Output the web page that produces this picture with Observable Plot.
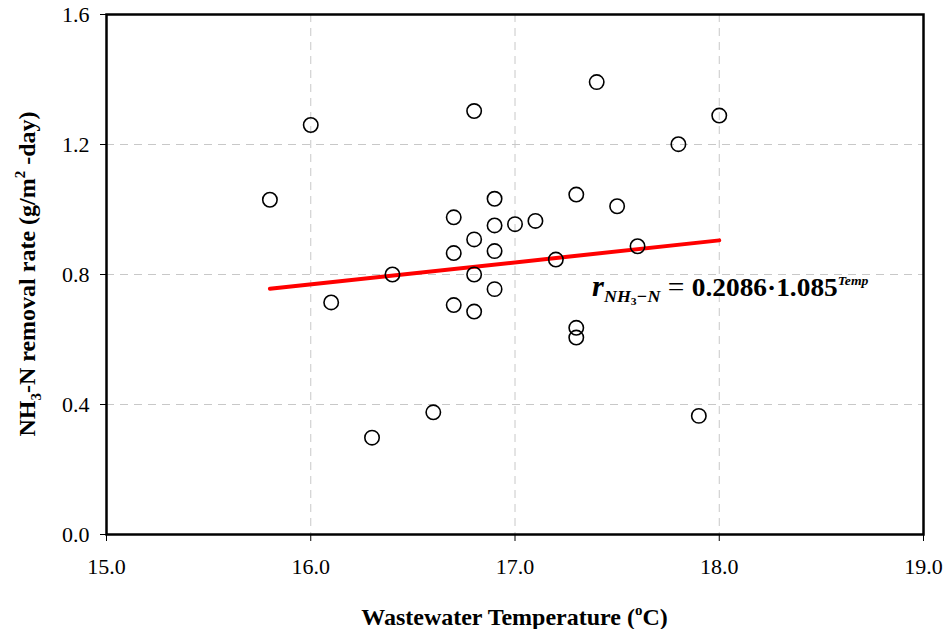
<!DOCTYPE html>
<html><head><meta charset="utf-8">
<script src="https://cdn.jsdelivr.net/npm/d3@7"></script>
<script src="https://cdn.jsdelivr.net/npm/@observablehq/plot@0.6"></script>
<style>body{margin:0;background:#fff;} svg{display:block} svg text, svg tspan{font-family:"Liberation Serif","Times New Roman",serif !important;}</style>
</head><body><div id="chart"></div>
<script>
// Observed data
const temperature = [15.8,16.0,16.1,16.3,16.4,16.6,16.7,16.7,16.7,16.8,16.8,16.8,16.8,16.9,16.9,16.9,16.9,17.0,17.1,17.2,17.3,17.3,17.3,17.4,17.5,17.6,17.8,17.9,18.0];
const removalRate = [1.03,1.26,0.714,0.298,0.80,0.376,0.976,0.866,0.706,1.303,0.908,0.80,0.686,1.033,0.951,0.872,0.755,0.955,0.965,0.846,1.046,0.636,0.606,1.392,1.010,0.887,1.201,0.365,1.289];
// Fitted line endpoints
const fitTemperature = [15.8, 18.0];
const fitRate = [0.756, 0.905];
// Ticks
const xTicks = [15, 16, 17, 18, 19];
const yTicks = [0, 0.4, 0.8, 1.2, 1.6];
const xGrid = [16, 17, 18];
const yGrid = [0.4, 0.8, 1.2];
// Equation anchor (data units)
const eqX = 17.38, eqY = 0.733;

const points = temperature.map((t, i) => ({t, r: removalRate[i]}));
const fit = fitTemperature.map((t, i) => ({t, r: fitRate[i]}));
const fmt = d3.format(".1f");
const ff = "Liberation Serif";

const chart = Plot.plot({
  width: 948, height: 629,
  marginLeft: 106, marginRight: 25, marginTop: 14, marginBottom: 95,
  style: {fontFamily: ff, fontSize: "22px", color: "black", background: "white"},
  x: {domain: [15, 19]},
  y: {domain: [0, 1.6]},
  marks: [
    Plot.gridX(xGrid, {stroke: "#c8c8c8", strokeOpacity: 1, strokeWidth: 1, strokeDasharray: "8,6"}),
    Plot.gridY(yGrid, {stroke: "#c8c8c8", strokeOpacity: 1, strokeWidth: 1, strokeDasharray: "8,6"}),
    Plot.line(fit, {x: "t", y: "r", stroke: "#ff0000", strokeWidth: 4}),
    Plot.dot(points, {x: "t", y: "r", r: 7.2, stroke: "black", strokeWidth: 1.6, fill: "none"}),
    Plot.axisX(xTicks, {tickFormat: fmt, tickSize: 7, tickPadding: 17, fontSize: 22, fontFamily: ff, label: null}),
    Plot.axisY(yTicks, {tickFormat: fmt, tickSize: 6, tickPadding: 11, fontSize: 22, fontFamily: ff, label: null}),
    Plot.frame({stroke: "black", strokeWidth: 2.5})
  ]
});
document.getElementById("chart").append(chart);

const svg = d3.select(chart);
const xs = chart.scale("x"), ys = chart.scale("y");

// X axis title
const xt = svg.append("text").attr("x", (xs.apply(15) + xs.apply(19)) / 2).attr("y", 625)
  .attr("text-anchor", "middle").attr("font-family", ff).attr("font-weight", "bold").attr("font-size", 24).attr("fill", "black");
xt.append("tspan").text("Wastewater Temperature (");
xt.append("tspan").attr("font-size", 15).attr("dy", -10).text("o");
xt.append("tspan").attr("dy", 10).text("C)");

// Y axis title
const yt = svg.append("text").attr("transform", `translate(35,${(ys.apply(0) + ys.apply(1.6)) / 2}) rotate(-90)`)
  .attr("text-anchor", "middle").attr("font-family", ff).attr("font-weight", "bold").attr("font-size", 24).attr("fill", "black");
yt.append("tspan").text("NH");
yt.append("tspan").attr("font-size", 15).attr("dy", 6).text("3");
yt.append("tspan").attr("dy", -6).text("-N removal rate (g/m");
yt.append("tspan").attr("font-size", 15).attr("dy", -10).text("2");
yt.append("tspan").attr("dy", 10).text(" -day)");

// Equation annotation
const eg = svg.append("g");
const et = eg.append("text").attr("text-anchor", "start").attr("font-family", ff).attr("font-weight", "bold").attr("font-size", 24).attr("fill", "black");
et.append("tspan").attr("font-style", "italic").attr("font-size", 29).text("r");
et.append("tspan").attr("font-style", "italic").attr("font-size", 17).attr("dy", 6).text("NH");
et.append("tspan").attr("font-size", 11).attr("dy", 3).text("3");
et.append("tspan").attr("font-style", "italic").attr("font-size", 17).attr("dy", -3).text("\u2212N");
et.append("tspan").attr("dy", -6).attr("font-weight", "normal").attr("font-size", 28).text(" = ");
et.append("tspan").attr("font-size", 26).text("0.2086\u00b71.085");
et.append("tspan").attr("font-style", "italic").attr("font-size", 13).attr("dy", -11).text("Temp");
const bb = et.node().getBBox();
const targetW = 277;
eg.attr("transform", `translate(${xs.apply(eqX) - bb.x * targetW / bb.width},${ys.apply(eqY)}) scale(${targetW / bb.width},1)`);
</script>
</body></html>
